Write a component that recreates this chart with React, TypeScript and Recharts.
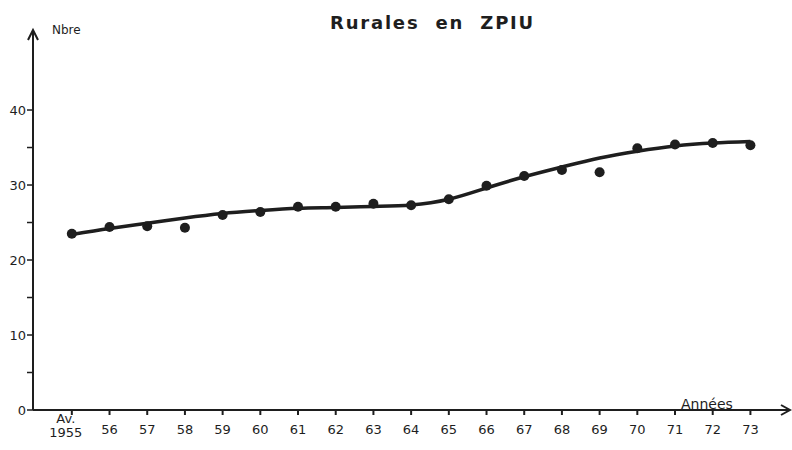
import React from 'react'
import { ComposedChart, Line, Scatter, XAxis, YAxis, ReferenceDot } from 'recharts'

const years = [1955, 1956, 1957, 1958, 1959, 1960, 1961, 1962, 1963, 1964, 1965, 1966, 1967, 1968, 1969, 1970, 1971, 1972, 1973]
const yearLabels = ['1955', '56', '57', '58', '59', '60', '61', '62', '63', '64', '65', '66', '67', '68', '69', '70', '71', '72', '73']
const observed = [23.5, 24.4, 24.5, 24.3, 26.0, 26.4, 27.1, 27.1, 27.5, 27.3, 28.1, 29.9, 31.2, 32.0, 31.7, 34.9, 35.4, 35.6, 35.3]
const trend = [23.4, 24.2, 24.9, 25.6, 26.2, 26.6, 26.9, 27.0, 27.15, 27.35, 28.1, 29.6, 31.1, 32.4, 33.6, 34.5, 35.2, 35.6, 35.8]
const yTicks = [0, 5, 10, 15, 20, 25, 30, 35, 40]

const ink = '#1e1e1e'
const font = '"DejaVu Sans", sans-serif'

const data = years.map((year, i) => ({ year, obs: observed[i], curve: trend[i] }))

const YearTick = (props: any) => {
    const { x, y, payload } = props
    const i = years.indexOf(payload.value)
    const label = yearLabels[i]
    if (i === 0) {
        return (
            <g>
                <text x={x - 6} y={y + 6} textAnchor="middle" fontSize={13} fill={ink} fontFamily={font}>Av.</text>
                <text x={x - 6} y={y + 20} textAnchor="middle" fontSize={13} fill={ink} fontFamily={font}>{label}</text>
            </g>
        )
    }
    return (
        <text x={x} y={y + 17} textAnchor="middle" fontSize={13} fill={ink} fontFamily={font}>{label}</text>
    )
}

const ArrowRight = (props: any) => (
    <polyline points={`${props.cx - 9},${props.cy - 5} ${props.cx},${props.cy} ${props.cx - 9},${props.cy + 5}`} fill="none" stroke={ink} strokeWidth={2} />
)

const ArrowUp = (props: any) => (
    <polyline points={`${props.cx - 5},${props.cy + 10} ${props.cx},${props.cy} ${props.cx + 5},${props.cy + 10}`} fill="none" stroke={ink} strokeWidth={2} />
)

const Dot = (props: any) => <circle cx={props.cx} cy={props.cy} r={5} fill={ink} />

const App = () => {
    return (
        <div style={{ position: 'absolute', left: 0, top: 0, width: 792, height: 450, background: '#fff' }}>
            <div style={{ position: 'absolute', left: 330, top: 12, fontFamily: font, fontSize: 18, fontWeight: 600, letterSpacing: 1.8, color: ink }}>
                Rurales&nbsp; en&nbsp; ZPIU
            </div>
            <div style={{ position: 'absolute', left: 52, top: 23, fontFamily: font, fontSize: 12, color: ink }}>Nbre</div>
            <div style={{ position: 'absolute', left: 681, top: 396, fontFamily: font, fontSize: 14, color: ink }}>Années</div>
            <ComposedChart width={792} height={450} data={data} margin={{ top: 30, right: 2, bottom: 10, left: 0 }}>
                <XAxis
                    type="number"
                    dataKey="year"
                    domain={[1953.97, 1974.05]}
                    ticks={years}
                    interval={0}
                    tick={<YearTick />}
                    tickSize={5}
                    height={30}
                    axisLine={{ stroke: ink, strokeWidth: 2 }}
                    tickLine={{ stroke: ink, strokeWidth: 2 }}
                />
                <YAxis
                    type="number"
                    domain={[0, 50.67]}
                    ticks={yTicks}
                    interval={0}
                    width={33}
                    tickSize={6}
                    tickMargin={1}
                    tickFormatter={(v: number) => (v % 10 === 0 ? String(v) : '')}
                    tick={{ fontSize: 13, fill: ink, fontFamily: font }}
                    axisLine={{ stroke: ink, strokeWidth: 2 }}
                    tickLine={{ stroke: ink, strokeWidth: 1.5 }}
                />
                <Line type="natural" dataKey="curve" stroke={ink} strokeWidth={3.5} dot={false} isAnimationActive={false} />
                <Scatter dataKey="obs" shape={<Dot />} isAnimationActive={false} />
                <ReferenceDot x={1974.05} y={0} ifOverflow="visible" shape={<ArrowRight />} />
                <ReferenceDot x={1953.97} y={50.67} ifOverflow="visible" shape={<ArrowUp />} />
            </ComposedChart>
        </div>
    )
}

export default App
